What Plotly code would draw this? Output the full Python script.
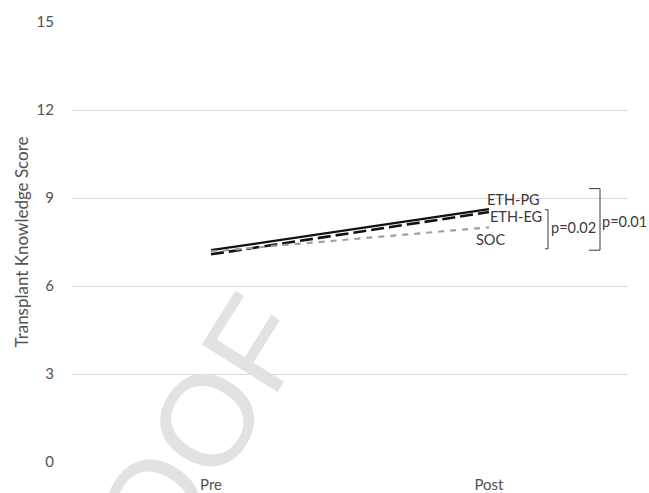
import plotly.graph_objects as go

# Mean transplant knowledge score before and after the intervention
timepoints = ["Pre", "Post"]
eth_pg = [7.22, 8.62]
eth_eg = [7.08, 8.52]
soc = [7.18, 8.00]

y_ticks = [0, 3, 6, 9, 12, 15]

AXIS_GREY = "#525252"
LABEL_GREY = "#3a3a3a"
FONT = "Lato"

x_pos = list(range(len(timepoints)))

fig = go.Figure()
fig.add_trace(go.Scatter(x=x_pos, y=eth_pg, mode="lines", name="ETH-PG",
                         line=dict(color="#111111", width=2.3)))
fig.add_trace(go.Scatter(x=x_pos, y=eth_eg, mode="lines", name="ETH-EG",
                         line=dict(color="#111111", width=2.6, dash="13px,5px")))
fig.add_trace(go.Scatter(x=x_pos, y=soc, mode="lines", name="SOC",
                         line=dict(color="#a0a0a0", width=2.2, dash="6px,6px")))

# Series names next to the Post end of each line
series_labels = [("ETH-PG", 8.96, 24), ("ETH-EG", 8.38, 27), ("SOC", 7.60, 1)]
for text, yv, dx in series_labels:
    fig.add_annotation(x=1, y=yv, xref="x", yref="y", text=text, showarrow=False,
                       xshift=dx, font=dict(family=FONT, size=14.5, color=LABEL_GREY))

# Significance brackets: (top, bottom, bracket x offset, arm length, label, label y, label x offset)
brackets = [(8.60, 7.27, 59, 3, "p=0.02", 8.01, 84),
            (9.32, 7.22, 111, 11, "p=0.01", 8.21, 135)]
for top, bottom, bx, arm, ptext, py, px in brackets:
    fig.add_shape(type="path", xref="x", yref="y", xsizemode="pixel", xanchor=1,
                  path=f"M {bx - arm},{top} L {bx},{top} L {bx},{bottom} L {bx - arm},{bottom}",
                  line=dict(color=LABEL_GREY, width=1))
    fig.add_annotation(x=1, y=py, xref="x", yref="y", text=ptext, showarrow=False,
                       xshift=px, font=dict(family=FONT, size=14.5, color=LABEL_GREY))

# Diagonal proof watermark
fig.add_annotation(x=0.1457, y=-0.099, xref="paper", yref="paper", text="PROOF",
                   showarrow=False, textangle=-58, xanchor="center", yanchor="middle",
                   font=dict(family="Liberation Sans", size=130, color="#e2e2e2"))

fig.update_layout(
    template="none",
    width=649, height=493,
    margin=dict(l=72, r=21, t=22, b=31, pad=0),
    paper_bgcolor="white", plot_bgcolor="white",
    showlegend=False,
    font=dict(family=FONT, size=15, color=AXIS_GREY),
)
fig.update_xaxes(range=[-0.5, 1.5], tickvals=x_pos, ticktext=timepoints,
                 showgrid=False, zeroline=False, showline=False, ticks="",
                 ticklabelstandoff=12, automargin=False,
                 tickfont=dict(family=FONT, size=15, color=AXIS_GREY))
fig.update_yaxes(range=[0, 15], tickvals=y_ticks, showgrid=True, gridcolor="#d9d9d9",
                 gridwidth=1, zeroline=False, showline=False, ticks="",
                 ticklabelstandoff=17, automargin=False,
                 tickfont=dict(family=FONT, size=15, color=AXIS_GREY),
                 title=dict(text="Transplant Knowledge Score", standoff=3,
                            font=dict(family=FONT, size=17, color=AXIS_GREY)))

fig.write_html("out.html")
